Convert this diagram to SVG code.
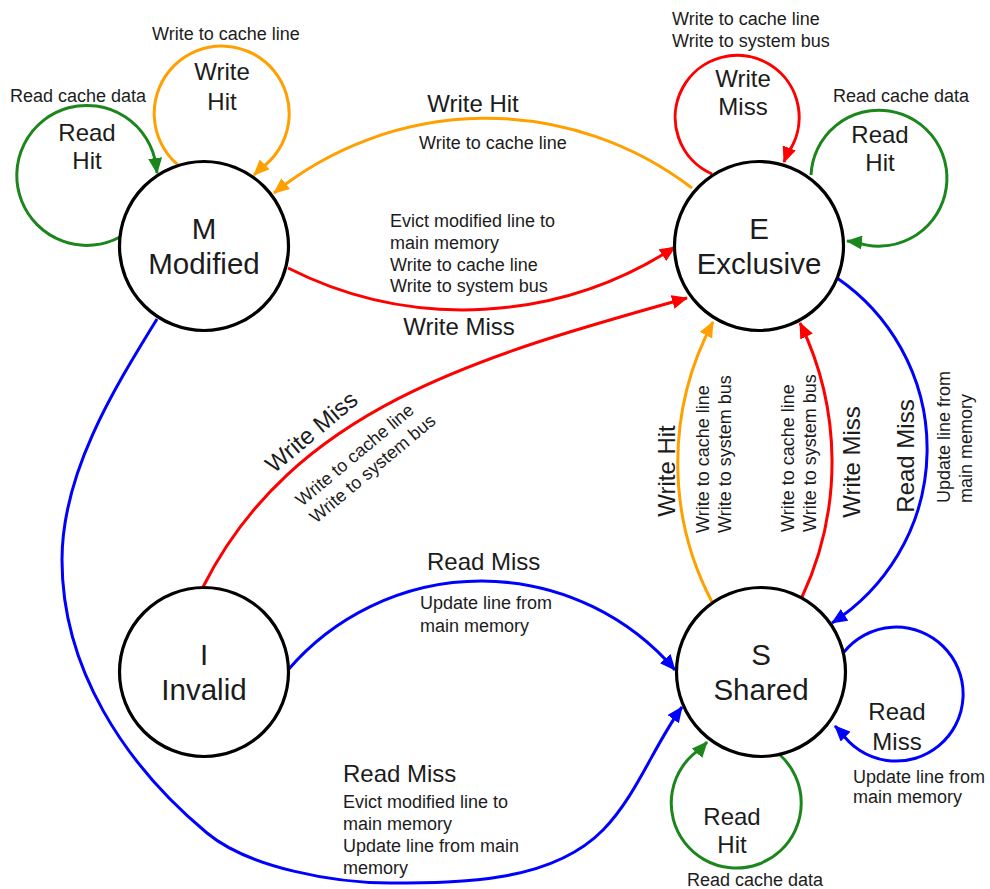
<svg xmlns="http://www.w3.org/2000/svg" width="990" height="889" viewBox="0 0 990 889">
<style>
  text { font-family: "Liberation Sans", Arial, sans-serif; fill: #1c1c1c; }
  .nt { font-size: 29.5px; text-anchor: middle; }
  .lt { font-size: 24px; }
  .at { font-size: 18px; }
  .mid { text-anchor: middle; }
  .node circle { fill: #ffffff; stroke: #000000; stroke-width: 3.2; }
  .e { fill: none; stroke-width: 3; }
  .o { stroke: #ffa000; marker-end: url(#aO); }
  .r { stroke: #ff0000; marker-end: url(#aR); }
  .g { stroke: #1b861b; marker-end: url(#aG); }
  .b { stroke: #0000ff; marker-end: url(#aB); }
</style>
<defs>
  <marker id="aO" viewBox="0 0 16 14" refX="15" refY="7" markerWidth="16" markerHeight="14" markerUnits="userSpaceOnUse" orient="auto"><path d="M0,0 L16,7 L0,14 z" fill="#ffa000"/></marker>
  <marker id="aR" viewBox="0 0 16 14" refX="15" refY="7" markerWidth="16" markerHeight="14" markerUnits="userSpaceOnUse" orient="auto"><path d="M0,0 L16,7 L0,14 z" fill="#ff0000"/></marker>
  <marker id="aG" viewBox="0 0 16 14" refX="15" refY="7" markerWidth="16" markerHeight="14" markerUnits="userSpaceOnUse" orient="auto"><path d="M0,0 L16,7 L0,14 z" fill="#1b861b"/></marker>
  <marker id="aB" viewBox="0 0 16 14" refX="15" refY="7" markerWidth="16" markerHeight="14" markerUnits="userSpaceOnUse" orient="auto"><path d="M0,0 L16,7 L0,14 z" fill="#0000ff"/></marker>
</defs>

<g id="connectors">
  <!-- M self loops -->
  <path class="e g" d="M120,237 A70,70 0 1 1 156,165 L157,173"/>
  <text class="at" x="10" y="102">Read cache data</text>
  <text class="lt mid" x="87" y="141">Read</text>
  <text class="lt mid" x="87" y="169">Hit</text>

  <path class="e o" d="M178,165 A67.5,67.5 0 1 1 259.6,169.4 L254,175"/>
  <text class="at" x="152" y="40">Write to cache line</text>
  <text class="lt mid" x="222" y="80">Write</text>
  <text class="lt mid" x="222" y="110">Hit</text>

  <!-- E self loops -->
  <path class="e r" d="M712,174 A62,62 0 1 1 786.8,154.5 L784,162"/>
  <text class="at" x="672" y="25">Write to cache line</text>
  <text class="at" x="672" y="47">Write to system bus</text>
  <text class="lt mid" x="743" y="87">Write</text>
  <text class="lt mid" x="743" y="115">Miss</text>

  <path class="e g" d="M811,175 A68,68 0 1 1 855,241.8 L847,241"/>
  <text class="at" x="833" y="102">Read cache data</text>
  <text class="lt mid" x="880" y="143">Read</text>
  <text class="lt mid" x="880" y="171">Hit</text>

  <!-- E -> M write hit -->
  <path class="e o" d="M692,188 A338.7,338.7 0 0 0 274,193"/>
  <text class="lt mid" x="473" y="112">Write Hit</text>
  <text class="at" x="419" y="149">Write to cache line</text>

  <!-- M -> E write miss -->
  <path class="e r" d="M288,268 A388,388 0 0 0 675,247"/>
  <text class="at" x="390" y="227">Evict modified line to</text>
  <text class="at" x="390" y="249">main memory</text>
  <text class="at" x="390" y="271">Write to cache line</text>
  <text class="at" x="390" y="292">Write to system bus</text>

  <!-- I -> E write miss -->
  <path class="e r" d="M203,587 C293,409 476,357 687,298"/>
  <text class="lt mid" x="459" y="335">Write Miss</text>
  <text class="lt" transform="translate(274,474) rotate(-40)">Write Miss</text>
  <text class="at" transform="translate(302,507) rotate(-40)">Write to cache line</text>
  <text class="at" transform="translate(316,524) rotate(-40)">Write to system bus</text>

  <!-- S -> E write hit -->
  <path class="e o" d="M712,602 A299.5,299.5 0 0 1 713,322"/>
  <text class="lt mid" transform="translate(675,471) rotate(-90)">Write Hit</text>
  <text class="at" transform="translate(709,533) rotate(-90)">Write to cache line</text>
  <text class="at" transform="translate(731,533) rotate(-90)">Write to system bus</text>

  <!-- S -> E write miss -->
  <path class="e r" d="M802,597 A318,318 0 0 0 800,323"/>
  <text class="at" transform="translate(794,532) rotate(-90)">Write to cache line</text>
  <text class="at" transform="translate(816,532) rotate(-90)">Write to system bus</text>
  <text class="lt mid" transform="translate(860,462) rotate(-90)">Write Miss</text>

  <!-- E -> S read miss -->
  <path class="e b" d="M837,278 A207,207 0 0 1 832,623"/>
  <text class="lt mid" transform="translate(914,456) rotate(-90)">Read Miss</text>
  <text class="at" transform="translate(950,503) rotate(-90)">Update line from</text>
  <text class="at" transform="translate(972,503) rotate(-90)">main memory</text>

  <!-- I -> S read miss -->
  <path class="e b" d="M288,670 A255,255 0 0 1 675,670"/>
  <text class="lt" x="427" y="570">Read Miss</text>
  <text class="at" x="420" y="609">Update line from</text>
  <text class="at" x="420" y="632">main memory</text>

  <!-- M -> S read miss -->
  <path class="e b" d="M157,319 C112,392 62,474 62,560 C62,668 124,764 207,833 C249,868 335,883 390,883 C463,883 552,882 603,830 C637,795 653,747 682,707"/>
  <text class="lt" x="343" y="782">Read Miss</text>
  <text class="at" x="343" y="808">Evict modified line to</text>
  <text class="at" x="343" y="830">main memory</text>
  <text class="at" x="343" y="852">Update line from main</text>
  <text class="at" x="343" y="874">memory</text>

  <!-- S self loops -->
  <path class="e b" d="M844,652 A67,67 0 1 1 840.6,731.6 L835,726"/>
  <text class="lt mid" x="897" y="720">Read</text>
  <text class="lt mid" x="897" y="750">Miss</text>
  <text class="at" x="853" y="783">Update line from</text>
  <text class="at" x="853" y="803">main memory</text>

  <path class="e g" d="M780,755 A65,65 0 1 1 701.7,748 L707,742"/>
  <text class="lt mid" x="732" y="825">Read</text>
  <text class="lt mid" x="732" y="853">Hit</text>
  <text class="at" x="687" y="886">Read cache data</text>
</g>

<g id="node-M" class="node">
  <circle cx="204" cy="246" r="84.5"/>
  <text class="nt" x="204" y="238.5">M</text>
  <text class="nt" x="204" y="273.5">Modified</text>
</g>
<g id="node-E" class="node">
  <circle cx="759" cy="246" r="84.5"/>
  <text class="nt" x="759" y="238.5">E</text>
  <text class="nt" x="759" y="273.5">Exclusive</text>
</g>
<g id="node-I" class="node">
  <circle cx="204" cy="672" r="84.5"/>
  <text class="nt" x="204" y="664.5">I</text>
  <text class="nt" x="204" y="699.5">Invalid</text>
</g>
<g id="node-S" class="node">
  <circle cx="761" cy="672" r="84.5"/>
  <text class="nt" x="761" y="664.5">S</text>
  <text class="nt" x="761" y="699.5">Shared</text>
</g>
</svg>
